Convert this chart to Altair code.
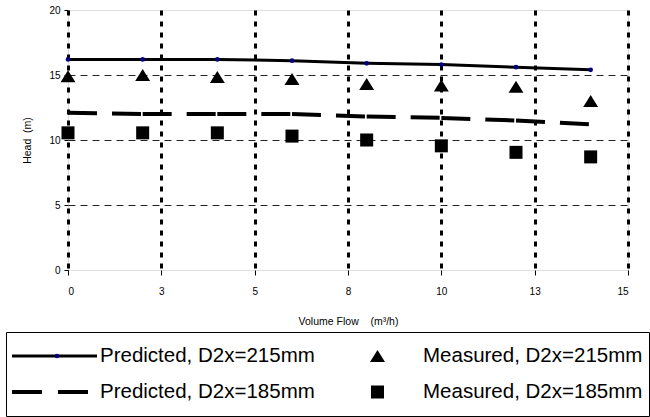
import altair as alt
import pandas as pd

# Pump head curves: predicted vs measured for two impeller diameters
flow = [0, 2, 4, 6, 8, 10, 12, 14]
pred_215 = [16.2, 16.2, 16.2, 16.1, 15.9, 15.8, 15.6, 15.4]
pred_185 = [12.1, 12.0, 12.0, 12.0, 11.8, 11.7, 11.5, 11.2]
meas_215 = [14.9, 15.0, 14.85, 14.7, 14.3, 14.2, 14.1, 13.0]
meas_185 = [10.55, 10.55, 10.55, 10.3, 10.0, 9.55, 9.05, 8.7]

# legend entries fill column by column
series = [
    "Predicted, D2x=215mm",
    "Predicted, D2x=185mm",
    "Measured, D2x=215mm",
    "Measured, D2x=185mm",
]

x_ticks = [0, 2.5, 5, 7.5, 10, 12.5, 15]
x_tick_labels = ["0", "3", "5", "8", "10", "13", "15"]
y_ticks = [0, 5, 10, 15, 20]

SANS = "Liberation Sans, Arial, sans-serif"
NAVY = "#000080"

# Symbol paths in unit space; legend symbols are 85 px wide (size 85^2)
sym_size = 85 * 85
shape_paths = [
    "M-1,-0.035H1V0.035H-1Z",
    "M-1,-0.047H-0.294V0.047H-1Z M0.082,-0.047H0.788V0.047H0.082Z",
    "M0,-0.141L0.176,0.141H-0.176Z",
    "M-0.153,-0.153H0.153V0.153H-0.153Z",
]

pred215_df = pd.DataFrame({"flow": flow, "head": pred_215, "curve": series[0]})

# dashed curve drawn segment by segment so the dash pattern restarts at each point
seg_rows = []
for i in range(len(flow) - 1):
    for j in (i, i + 1):
        seg_rows.append({"flow": flow[j], "head": pred_185[j], "seg": i})
pred185_df = pd.DataFrame(seg_rows)

meas_df = pd.DataFrame(
    [{"flow": f, "head": h, "series": series[2]} for f, h in zip(flow, meas_215)]
    + [{"flow": f, "head": h, "series": series[3]} for f, h in zip(flow, meas_185)]
)

label_expr = "{}[indexof({}, datum.value)]".format(
    "[" + ",".join("'%s'" % s for s in x_tick_labels) + "]",
    "[" + ",".join(str(v) for v in x_ticks) + "]",
)

x_enc = alt.X(
    "flow:Q",
    scale=alt.Scale(domain=[0, 15], nice=False, zero=False),
    axis=alt.Axis(
        values=x_ticks,
        labelExpr=label_expr,
        grid=True,
        gridColor="black",
        gridWidth=3,
        gridDash=[5, 6],
        domain=False,
        tickColor="black",
        tickSize=5,
        labelFont=SANS,
        labelFontSize=10,
        labelColor="black",
        labelPadding=11,
        title="Volume Flow \u00a0 \u00a0(m³/h)",
        titleFont=SANS,
        titleFontSize=10.5,
        titleFontWeight="normal",
        titleColor="black",
        titlePadding=20,
    ),
)

y_enc = alt.Y(
    "head:Q",
    scale=alt.Scale(domain=[0, 20], nice=False),
    axis=alt.Axis(
        values=y_ticks,
        grid=True,
        gridColor="#222222",
        gridWidth=1,
        gridDash=[7, 5],
        gridOpacity={"condition": {"test": "datum.value === 0 || datum.value === 20", "value": 0}, "value": 1},
        domain=False,
        tickColor="black",
        tickSize=4,
        labelFont=SANS,
        labelFontSize=10,
        labelColor="black",
        labelPadding=4,
        title="Head\u00a0 (m)",
        titleFont=SANS,
        titleFontSize=10.5,
        titleFontWeight="normal",
        titleColor="black",
        titleX=-41,
        titleY=130,
        titleBaseline="middle",
    ),
)

line215 = alt.Chart(pred215_df).mark_line(color="black", strokeWidth=3).encode(x=x_enc, y=y_enc)

# navy point markers on the 215 mm curve; their one-entry legend puts the dot
# in the middle of the line sample of the main legend
dots215 = alt.Chart(pred215_df).mark_point(
    filled=True, size=22, opacity=1, strokeWidth=0
).encode(
    x="flow:Q",
    y="head:Q",
    color=alt.Color(
        "curve:N",
        scale=alt.Scale(domain=[series[0]], range=[NAVY]),
        legend=alt.Legend(
            title=None,
            orient="none",
            legendX=-16,
            legendY=328,
            padding=0,
            clipHeight=36,
            symbolSize=22,
            symbolStrokeWidth=0,
            symbolOffset=0,
            symbolType="circle",
            labelExpr="''",
            labelOffset=0,
        ),
    ),
)

line185 = alt.Chart(pred185_df).mark_line(
    color="black", strokeWidth=4, strokeDash=[29, 15], strokeCap="butt"
).encode(x="flow:Q", y="head:Q", detail="seg:N")

measured = alt.Chart(meas_df).mark_point(
    filled=True, color="black", size=sym_size, opacity=1, strokeWidth=0
).encode(
    x="flow:Q",
    y="head:Q",
    shape=alt.Shape(
        "series:N",
        scale=alt.Scale(domain=series, range=shape_paths),
        legend=alt.Legend(
            title=None,
            orient="none",
            legendX=-62,
            legendY=322,
            columns=2,
            columnPadding=20,
            rowPadding=0,
            clipHeight=36,
            symbolSize=sym_size,
            symbolStrokeWidth=0,
            symbolOffset=0,
            labelOffset=3,
            labelFont=SANS,
            labelFontSize=20.5,
            labelColor="black",
            labelLimit=600,
            padding=6,
            strokeColor="black",
            fillColor="white",
            zindex=0,
        ),
    ),
)

chart = (
    alt.layer(line215, line185, measured, dots215)
    .properties(
        width=560,
        height=260,
        autosize=alt.AutoSizeParams(type="none"),
        padding={"left": 68, "top": 10, "right": 22, "bottom": 147},
    )
    .configure_view(stroke="black", strokeWidth=3)
    .configure(background="white")
)

chart.save("out.html", embed_options={"renderer": "svg", "actions": False})
